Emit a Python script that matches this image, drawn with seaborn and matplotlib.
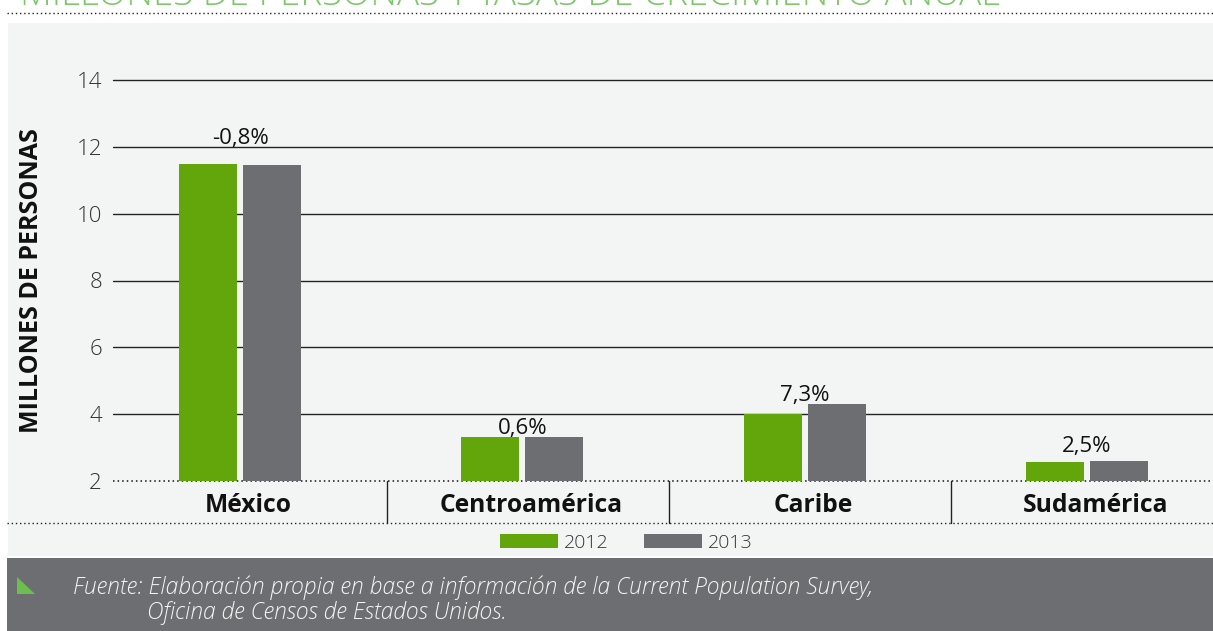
import matplotlib
matplotlib.use("Agg")
import matplotlib.pyplot as plt
import matplotlib.transforms as mtransforms
from matplotlib.patches import Rectangle, Polygon, Patch
from matplotlib.lines import Line2D
import seaborn as sns
import pandas as pd
import numpy as np

# ---------------- data ----------------
regions = ["México", "Centroamérica", "Caribe", "Sudamérica"]
years = ["2012", "2013"]
values_2012 = [11.5, 3.31, 4.0, 2.57]
values_2013 = [11.45, 3.33, 4.29, 2.6]
growth_labels = ["-0,8%", "0,6%", "7,3%", "2,5%"]
y_ticks = [2, 4, 6, 8, 10, 12, 14]
title_text = "MILLONES DE PERSONAS Y TASAS DE CRECIMIENTO ANUAL"
ylabel_text = "MILLONES DE PERSONAS"
source_line1 = "Fuente: Elaboración propia en base a información de la Current Population Survey,"
source_line2 = "Oficina de Censos de Estados Unidos."

df = pd.DataFrame({
    "region": regions * 2,
    "year": [years[0]] * len(regions) + [years[1]] * len(regions),
    "value": values_2012 + values_2013,
})

GREEN = "#63a60b"
GREY = "#6d6e71"
BG = "#f3f5f4"
TITLE_GREEN = "#7cc768"

sns.set_theme(style="white")
plt.rcParams["font.family"] = ["Open Sans", "DejaVu Sans"]

W, H = 1213, 631
fig = plt.figure(figsize=(W / 100, H / 100), dpi=100)
fig.patch.set_facecolor("white")


def fx(x):
    return x / W


def fy(y):
    return 1 - y / H


# background panels
fig.add_artist(Rectangle((fx(8), fy(556)), fx(W) - fx(8), fy(23) - fy(556),
                         transform=fig.transFigure, facecolor=BG, edgecolor="none", zorder=-5))
fig.add_artist(Rectangle((fx(7), fy(H)), 1 - fx(7), fy(558) - fy(H),
                         transform=fig.transFigure, facecolor=GREY, edgecolor="none", zorder=-5))

# axes
ax_left, ax_right, ax_top, ax_bottom = 113, 1213, 80, 481
ax = fig.add_axes([fx(ax_left), fy(ax_bottom), fx(ax_right) - fx(ax_left), fy(ax_top) - fy(ax_bottom)])
ax.set_facecolor("none")

sns.barplot(data=df, x="region", y="value", hue="year", order=regions, hue_order=years,
            palette=[GREEN, GREY], saturation=1, width=0.453, gap=0.093, ax=ax, legend=False,
            edgecolor="none", linewidth=0, zorder=3)

ax.set_xlim(-0.45, 3.447)
ax.set_ylim(2, 14)
ax.set_yticks(y_ticks)
ax.set_yticklabels([str(t) for t in y_ticks], fontsize=16, color="#333333", fontweight="light")
ax.tick_params(axis="y", length=0, pad=8)
for s in ax.spines.values():
    s.set_visible(False)

# gridlines
ax.yaxis.grid(True, color="#222222", linewidth=1.0, zorder=1)
for t, gl in zip(y_ticks, ax.get_ygridlines()):
    gl.set_clip_on(False)
    if t == 2:
        gl.set_linestyle((0, (1, 2)))
        gl.set_color("#111111")
        gl.set_linewidth(1.1)
ax.set_axisbelow(True)

# category labels, centred between dividers
ax.set_xticks(np.arange(len(regions)) + 0.03)
ax.set_xticklabels(regions, fontsize=17.7, fontweight="bold", color="#111111")
ax.tick_params(axis="x", length=0, pad=8.5)
ax.set_xlabel("")
ax.set_ylabel("")

# dividers
trans = mtransforms.blended_transform_factory(ax.transData, ax.transAxes)
div_h = (523 - ax_bottom) / (ax_bottom - ax_top)
for i in range(len(regions) - 1):
    ax.plot([i + 0.52, i + 0.52], [0, -div_h], transform=trans, color="#222222",
            linewidth=1.0, clip_on=False)

# growth labels above bars
label_offsets_px = [20, 3, 3, 9]
for i, (lab, a, b) in enumerate(zip(growth_labels, values_2012, values_2013)):
    ax.annotate(lab, xy=(i, max(a, b)), xytext=(0, label_offsets_px[i] * 0.72),
                textcoords="offset points", ha="center", va="baseline",
                fontsize=16, color="#111111", zorder=5)

# dotted separator lines
for y, x0 in [(13, 7), (523, 7)]:
    fig.add_artist(Line2D([fx(x0), 1], [fy(y), fy(y)], transform=fig.transFigure,
                          color="#222222", linewidth=1.0, linestyle=(0, (1, 2))))

# title (cut at the top as in the original)
fig.text(fx(20), fy(5), title_text, ha="left", va="baseline", fontsize=26.5,
         color=TITLE_GREEN, fontweight="light")

# y label
fig.text(fx(32), fy(281), ylabel_text, rotation=90, ha="center", va="center",
         fontsize=18, fontweight="bold", color="#111111")

# legend
handles = [Patch(facecolor=GREEN, edgecolor="none"), Patch(facecolor=GREY, edgecolor="none")]
leg = ax.legend(handles, years, loc="center", bbox_to_anchor=(fx(626), fy(543)),
                bbox_transform=fig.transFigure, ncol=2, frameon=False,
                handlelength=3.0, handleheight=0.72, handletextpad=0.3,
                columnspacing=1.8, prop={"size": 14, "weight": "light"})
for t in leg.get_texts():
    t.set_color("#333333")

# footer
fig.add_artist(Polygon([[fx(17), fy(577)], [fx(17), fy(594)], [fx(35), fy(594)]], closed=True,
                       transform=fig.transFigure, facecolor="#6cbf4f", edgecolor="none"))
fig.text(fx(73), fy(594), source_line1, ha="left", va="baseline", fontsize=16.5,
         style="italic", fontweight="light", color="#f4f4f4")
fig.text(fx(147), fy(619), source_line2, ha="left", va="baseline", fontsize=16.5,
         style="italic", fontweight="light", color="#f4f4f4")

fig.savefig("out.png", dpi=100, facecolor="white")
